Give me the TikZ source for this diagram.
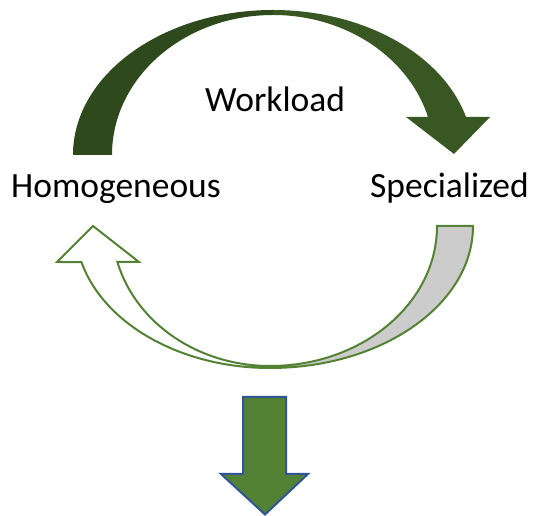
\documentclass[tikz,border=0pt]{standalone}
\usepackage{fontspec}
\setmainfont{Carlito}
\usepackage{tikz}
\usetikzlibrary{arrows, arrows.meta}
\definecolor{backgreen}{HTML}{2E4A1D}
\definecolor{frontgreen}{HTML}{385723}
\definecolor{linegreen}{HTML}{548235}
\definecolor{lineblue}{HTML}{2F5597}
\definecolor{backgray}{HTML}{CCCCCC}

\begin{document}
\begin{tikzpicture}[x=1pt, y=1pt]
\tikzstyle{label}=[inner sep=0pt, font=\fontsize{35.5}{40}\selectfont]
\tikzstyle{outlined}=[draw=linegreen, line width=2pt, line join=miter]
\useasboundingbox (0,0) rectangle (533,516);

% upper arrow
\fill[backgreen] (73,361) arc[start angle=180, end angle=90, x radius=200, y radius=145]
  -- (273,501) arc[start angle=90, end angle=180, x radius=161, y radius=140] -- cycle;
\fill[frontgreen] (273,506) arc[start angle=90, end angle=15.2, x radius=200, y radius=145]
  -- (490,399) -- (454,362) -- (406,399) -- (428,399)
  arc[start angle=15.75, end angle=90, x radius=161, y radius=140] -- cycle;

% lower arrow
\filldraw[outlined, fill=backgray] (473,290) arc[start angle=0, end angle=-90, x radius=203, y radius=142]
  -- (270,150) arc[start angle=-90, end angle=0, x radius=167, y radius=140] -- cycle;
\filldraw[outlined, fill=white] (270,148) arc[start angle=-90, end angle=-165.3, x radius=195, y radius=142]
  -- (57,254) -- (93,290) -- (139,254) -- (117.4,254)
  arc[start angle=-165.1, end angle=-90, x radius=158, y radius=140] -- cycle;

% down arrow
\filldraw[draw=lineblue, line width=2pt, fill=linegreen]
  (243,119) -- (286,119) -- (286,42) -- (308,42) -- (265,1.5) -- (221,42) -- (243,42) -- cycle;

\node[label, anchor=base west] (workload) at (205,404) {Workload};
\node[label, anchor=base west] (homog) at (11,318) {Homogeneous};
\node[label, anchor=base east] (special) at (529,318) {Specialized};

\end{tikzpicture}
\end{document}
